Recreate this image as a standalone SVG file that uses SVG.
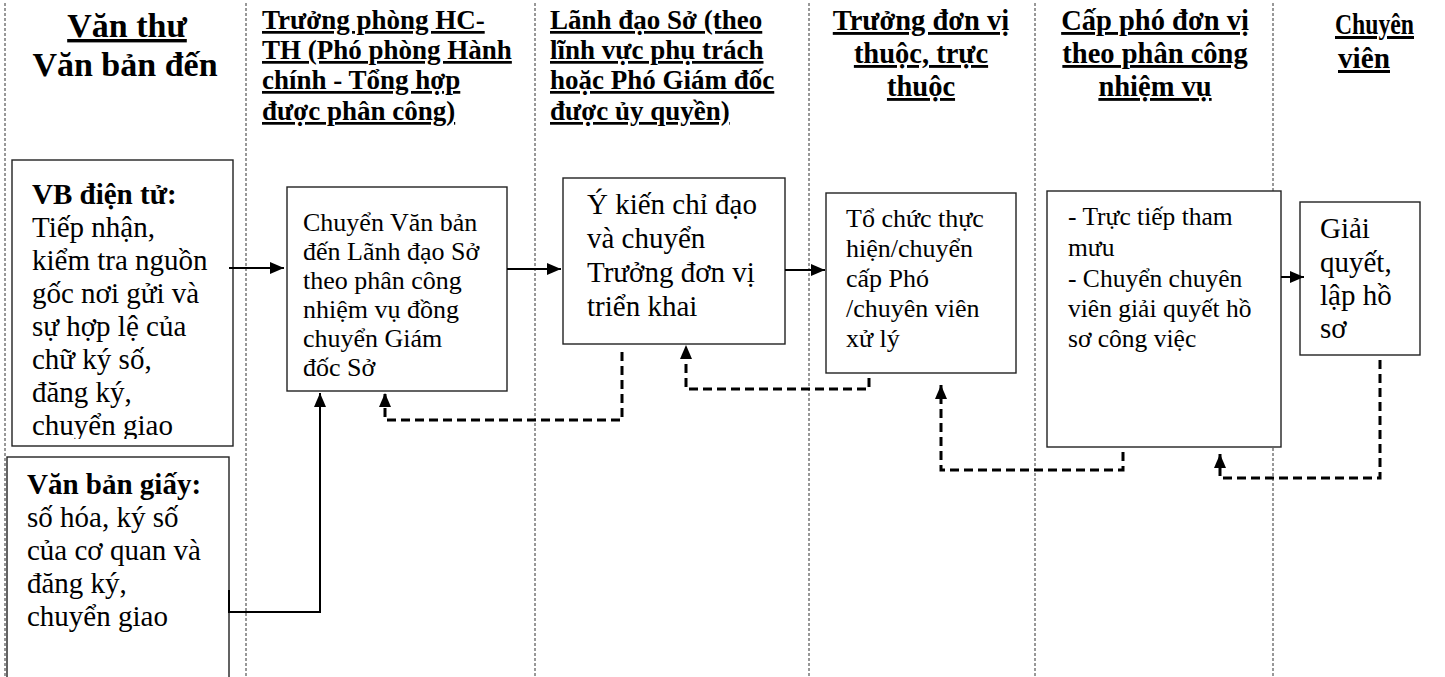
<svg xmlns="http://www.w3.org/2000/svg" width="1445" height="677" viewBox="0 0 1445 677">
<style>
.lane{stroke:#333;stroke-width:1;stroke-dasharray:3 2;fill:none}
.box{fill:#fff;stroke:#222;stroke-width:1.4}
.hd{font-family:"Liberation Serif","Times New Roman",serif;font-weight:bold;fill:#000}
.u{text-decoration:underline;text-decoration-thickness:2.5px}
.t{font-family:"Liberation Serif","Times New Roman",serif;fill:#000}
.b{font-weight:bold}
.sol{stroke:#000;stroke-width:2;fill:none}
.dsh{stroke:#000;stroke-width:3;fill:none;stroke-dasharray:9 5}
</style>
<defs>
<marker id="ah" viewBox="0 0 14 12" refX="14" refY="6" markerWidth="14" markerHeight="12" markerUnits="userSpaceOnUse" orient="auto">
<path d="M0,0 L14,6 L0,12 z" fill="#000"/>
</marker>
<clipPath id="c1"><rect x="12" y="160" width="221" height="279"/></clipPath>
</defs>
<rect width="1445" height="677" fill="#fff"/>
<g id="lanes">
<line class="lane" x1="5" y1="3" x2="5" y2="677"/>
<line class="lane" x1="246" y1="3" x2="246" y2="677"/>
<line class="lane" x1="535" y1="3" x2="535" y2="677"/>
<line class="lane" x1="809" y1="3" x2="809" y2="677"/>
<line class="lane" x1="1035" y1="3" x2="1035" y2="677"/>
<line class="lane" x1="1273" y1="3" x2="1273" y2="677"/>
</g>
<g id="headers">
<text class="hd u" x="127" y="37" font-size="34" text-anchor="middle">Văn thư</text>
<text class="hd" x="125" y="76" font-size="34" text-anchor="middle">Văn bản đến</text>
<g font-size="27">
<text class="hd u" x="262" y="29">Trưởng phòng HC-</text>
<text class="hd u" x="262" y="59">TH (Phó phòng Hành</text>
<text class="hd u" x="262" y="89">chính - Tổng hợp</text>
<text class="hd u" x="262" y="120">được phân công)</text>
<text class="hd u" x="550" y="29">Lãnh đạo Sở (theo</text>
<text class="hd u" x="550" y="59">lĩnh vực phụ trách</text>
<text class="hd u" x="550" y="89">hoặc Phó Giám đốc</text>
<text class="hd u" x="550" y="120">được ủy quyền)</text>
</g>
<g font-size="28.5">
<text class="hd u" x="921" y="30" text-anchor="middle">Trưởng đơn vị</text>
<text class="hd u" x="921" y="63" text-anchor="middle">thuộc, trực</text>
<text class="hd u" x="921" y="96" text-anchor="middle">thuộc</text>
<text class="hd u" x="1155" y="30" text-anchor="middle">Cấp phó đơn vị</text>
<text class="hd u" x="1155" y="63" text-anchor="middle">theo phân công</text>
<text class="hd u" x="1155" y="96" text-anchor="middle">nhiệm vụ</text>
</g>
<text class="hd u" x="1335" y="34" font-size="30" textLength="79" lengthAdjust="spacingAndGlyphs">Chuyên</text>
<text class="hd u" x="1338" y="68" font-size="30" textLength="52" lengthAdjust="spacingAndGlyphs">viên</text>
</g>
<g id="node-vb-dien-tu">
<rect class="box" x="12" y="160" width="221" height="286"/>
<g class="t" font-size="29" clip-path="url(#c1)">
<text class="b" x="32" y="204">VB điện tử:</text>
<text x="32" y="237">Tiếp nhận,</text>
<text x="32" y="270">kiểm tra nguồn</text>
<text x="32" y="303">gốc nơi gửi và</text>
<text x="32" y="336">sự hợp lệ của</text>
<text x="32" y="369">chữ ký số,</text>
<text x="32" y="402">đăng ký,</text>
<text x="32" y="435">chuyển giao</text>
</g>
</g>
<g id="node-vb-giay">
<rect class="box" x="7" y="457" width="222" height="240"/>
<g class="t" font-size="29">
<text class="b" x="27" y="494">Văn bản giấy:</text>
<text x="27" y="527">số hóa, ký số</text>
<text x="27" y="560">của cơ quan và</text>
<text x="27" y="593">đăng ký,</text>
<text x="27" y="626">chuyển giao</text>
</g>
</g>
<g id="node-truong-phong">
<rect class="box" x="287" y="187" width="220" height="204"/>
<g class="t" font-size="26">
<text x="303" y="231">Chuyển Văn bản</text>
<text x="303" y="260">đến Lãnh đạo Sở</text>
<text x="303" y="289">theo phân công</text>
<text x="303" y="318">nhiệm vụ đồng</text>
<text x="303" y="347">chuyển Giám</text>
<text x="303" y="376">đốc Sở</text>
</g>
</g>
<g id="node-lanh-dao">
<rect class="box" x="563" y="178" width="222" height="166"/>
<g class="t" font-size="29">
<text x="587" y="214">Ý kiến chỉ đạo</text>
<text x="587" y="248">và chuyển</text>
<text x="587" y="282">Trưởng đơn vị</text>
<text x="587" y="316">triển khai</text>
</g>
</g>
<g id="node-truong-don-vi">
<rect class="box" x="826" y="193" width="190" height="180"/>
<g class="t" font-size="26">
<text x="846" y="227">Tổ chức thực</text>
<text x="846" y="257">hiện/chuyển</text>
<text x="846" y="287">cấp Phó</text>
<text x="846" y="317">/chuyên viên</text>
<text x="846" y="347">xử lý</text>
</g>
</g>
<g id="node-cap-pho">
<rect class="box" x="1047" y="191" width="234" height="256"/>
<g class="t" font-size="25.5">
<text x="1068" y="225">- Trực tiếp tham</text>
<text x="1068" y="256">mưu</text>
<text x="1068" y="287">- Chuyển chuyên</text>
<text x="1068" y="317">viên giải quyết hồ</text>
<text x="1068" y="347">sơ công việc</text>
</g>
</g>
<g id="node-chuyen-vien">
<rect class="box" x="1300" y="202" width="120" height="153"/>
<g class="t" font-size="29">
<text x="1320" y="238">Giải</text>
<text x="1320" y="272">quyết,</text>
<text x="1320" y="305">lập hồ</text>
<text x="1320" y="338">sơ</text>
</g>
</g>
<g id="connectors">
<line class="sol" x1="229" y1="268" x2="284" y2="268" marker-end="url(#ah)"/>
<line class="sol" x1="507" y1="269" x2="561" y2="269" marker-end="url(#ah)"/>
<line class="sol" x1="785" y1="270" x2="825" y2="270" marker-end="url(#ah)"/>
<line class="sol" x1="1281" y1="277" x2="1304" y2="277" marker-end="url(#ah)"/>
<path class="sol" d="M229,590 V612 H320 V393" marker-end="url(#ah)"/>
<path class="dsh" d="M622,352 V420 H385 V393" marker-end="url(#ah)"/>
<path class="dsh" d="M869,378 V389 H686 V345" marker-end="url(#ah)"/>
<path class="dsh" d="M1123,452 V470 H941 V385" marker-end="url(#ah)"/>
<path class="dsh" d="M1380,360 V478 H1220 V454" marker-end="url(#ah)"/>
</g>
</svg>
